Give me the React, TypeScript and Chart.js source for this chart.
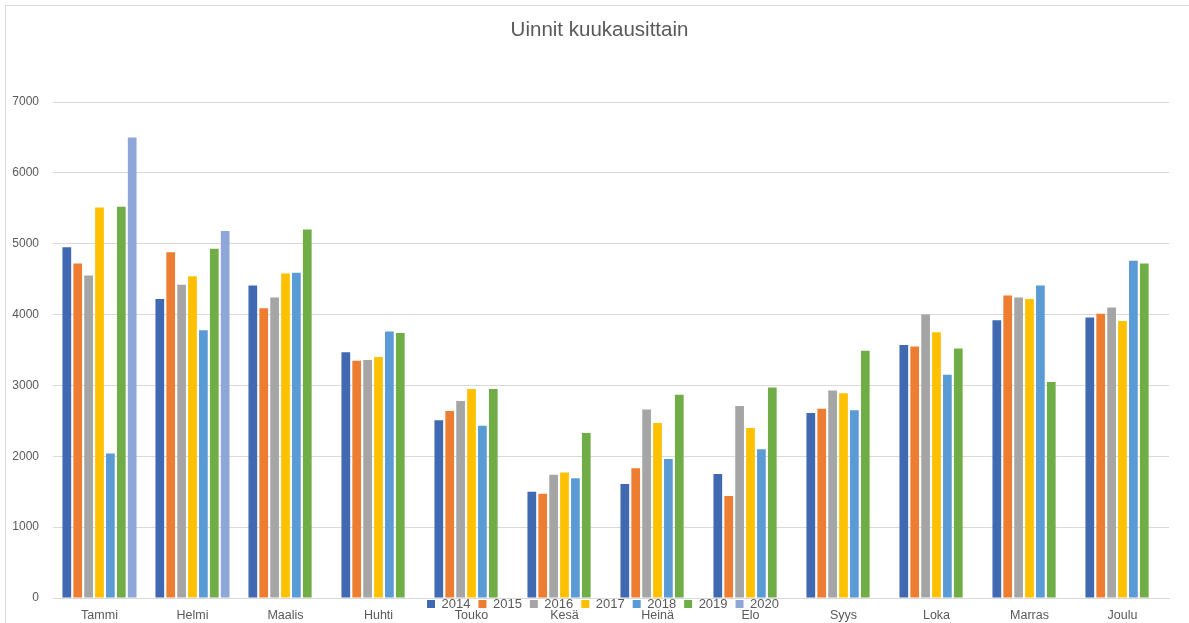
import React, { useEffect, useRef } from 'react';
import { Chart, registerables } from 'chart.js';

Chart.register(...registerables);

const chartTitle = 'Uinnit kuukausittain';
const categories = ['Tammi', 'Helmi', 'Maalis', 'Huhti', 'Touko', 'Kesä', 'Heinä', 'Elo', 'Syys', 'Loka', 'Marras', 'Joulu'];
const seriesNames = ['2014', '2015', '2016', '2017', '2018', '2019', '2020'];

const values2014 = [4950, 4220, 4410, 3470, 2510, 1500, 1610, 1750, 2610, 3570, 3920, 3960];
const values2015 = [4720, 4880, 4090, 3350, 2640, 1470, 1830, 1440, 2670, 3550, 4270, 4010];
const values2016 = [4550, 4420, 4240, 3360, 2780, 1740, 2660, 2710, 2930, 4000, 4240, 4100];
const values2017 = [5510, 4540, 4580, 3400, 2950, 1770, 2470, 2400, 2890, 3750, 4220, 3910];
const values2018 = [2040, 3780, 4590, 3760, 2430, 1690, 1960, 2100, 2650, 3150, 4410, 4760];
const values2019 = [5520, 4930, 5200, 3740, 2950, 2330, 2870, 2970, 3490, 3520, 3050, 4720];
const values2020 = [6500, 5180, null, null, null, null, null, null, null, null, null, null];

const yMin = 0;
const yMax = 7000;
const yStep = 1000;

const seriesColors = ['#4169B1', '#ED7D31', '#A5A5A5', '#FFC000', '#5B9BD5', '#70AD47', '#8FA7D8'];

const W = 1189;
const H = 650;
const FONT = "'Liberation Sans', Arial, sans-serif";
const LEGEND_PAD = 8;

const overlapLegend = {
  id: 'overlapLegend',
  beforeLayout(chart: any) {
    const lg = chart.legend;
    if (lg && !lg._patched) {
      const orig = lg.fit.bind(lg);
      lg.fit = function () {
        orig();
        this._realHeight = this.height;
        this.height = 0;
      };
      lg._patched = true;
    }
  },
  afterLayout(chart: any) {
    const lg = chart.legend;
    if (lg) {
      const h = Math.max(lg._realHeight || 0, 40);
      const itemH = 13;
      lg.top = 604 - LEGEND_PAD - itemH / 2;
      lg.height = h;
      lg.bottom = lg.top + h;
      const d = 603 - (lg.left + lg.right) / 2;
      lg.left += d;
      lg.right += d;
    }
    const tb = chart.titleBlock;
    if (tb) {
      const d2 = 599.5 - (tb.left + tb.right) / 2;
      tb.left += d2;
      tb.right += d2;
    }
  },
};

export default function App() {
  const ref = useRef<HTMLCanvasElement | null>(null);

  useEffect(() => {
    if (!ref.current) return;
    const allValues = [values2014, values2015, values2016, values2017, values2018, values2019, values2020];
    const chart = new Chart(ref.current, {
      type: 'bar',
      data: {
        labels: categories,
        datasets: seriesNames.map((name, i) => ({
          label: name,
          data: allValues[i],
          backgroundColor: seriesColors[i],
          borderWidth: 0,
          categoryPercentage: 0.82,
          barPercentage: 0.8,
        })),
      },
      options: {
        responsive: false,
        animation: false,
        devicePixelRatio: 1,
        layout: { padding: { left: 6, right: 20, top: 0, bottom: 17 } },
        plugins: {
          title: {
            display: true,
            text: chartTitle,
            color: '#595959',
            font: { family: FONT, size: 20.5, weight: 'normal' },
            padding: { top: 17.7, bottom: 59.7 },
          },
          legend: {
            display: true,
            position: 'bottom',
            labels: {
              boxWidth: 8,
              boxHeight: 8,
              padding: LEGEND_PAD,
              color: '#595959',
              font: { family: FONT, size: 13 },
            },
          },
          tooltip: { enabled: false },
        },
        scales: {
          x: {
            grid: { display: false, drawTicks: false },
            border: { display: true, color: '#D9D9D9', width: 1 },
            ticks: { color: '#595959', font: { family: FONT, size: 12.5 }, padding: 10, maxRotation: 0 },
          },
          y: {
            min: yMin,
            max: yMax,
            afterFit(scale: any) {
              scale.width = 47;
            },
            grid: { color: '#D9D9D9', lineWidth: 1, drawTicks: false },
            border: { display: false },
            ticks: {
              stepSize: yStep,
              color: '#595959',
              font: { family: FONT, size: 12 },
              padding: 14,
              callback: (v: any) => String(v),
            },
          },
        },
      },
      plugins: [overlapLegend],
    } as any);
    return () => chart.destroy();
  }, []);

  return (
    <div style={{ position: 'fixed', left: 0, top: 0, width: W, height: 623, overflow: 'hidden', background: '#fff' }}>
      <div
        style={{
          position: 'absolute',
          left: 5,
          top: 5,
          width: 1200,
          height: 700,
          border: '1px solid #D9D9D9',
          boxSizing: 'border-box',
        }}
      />
      <canvas ref={ref} width={W} height={H} style={{ position: 'absolute', left: 0, top: 0, width: W, height: H }} />
    </div>
  );
}
